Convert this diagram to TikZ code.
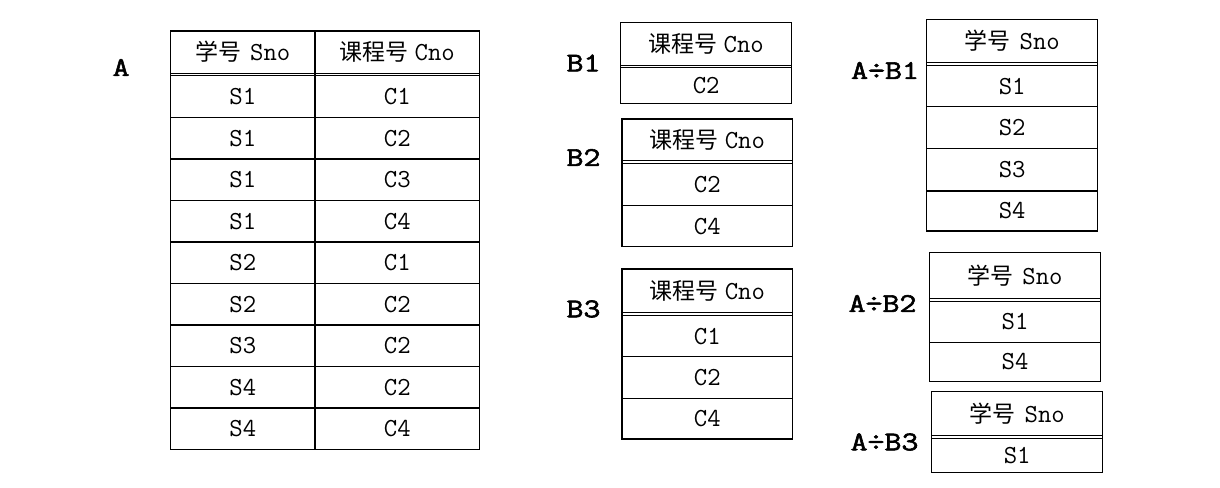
\documentclass[tikz,border=0pt]{standalone}
\usepackage{fontspec}
\newfontfamily\cellfam{Latin Modern Mono}
\newfontfamily\labfam[FakeStretch=1.22,FakeBold=2.2]{Latin Modern Mono}
\newfontfamily\cjkfam{Noto Sans CJK SC}
\newcommand\cjkf{\cjkfam\fontsize{23}{26}\selectfont}
\newcommand\cellf{\cellfam\fontsize{26}{28}\selectfont}
\newcommand\labf{\labfam\fontsize{27}{30}\selectfont}
\newcommand\hSno{{\cjkf 学号}\hspace{9pt}Sno}
\newcommand\hCno{{\cjkf 课程号}\hspace{6pt}Cno}
\tikzset{
  frame/.style={line width=1.3pt, black},
  rule/.style={line width=1.2pt, black},
  dbl/.style={line width=0.9pt, black},
  cell/.style={inner sep=0pt, font=\cellf, text=black},
  lab/.style={inner sep=0pt, font=\labf, text=black},
}
\begin{document}
\begin{tikzpicture}[x=1pt,y=-1pt]
\useasboundingbox[fill=white] (0,0) rectangle (1220,487);

% ---------------- Table A ----------------
\draw[frame] (170.5,31) rectangle (479.5,449.5);
\draw[frame] (315,31) -- (315,449.5);
\draw[dbl] (170.5,73) -- (479.5,73);
\draw[dbl] (170.5,75.8) -- (479.5,75.8);
\foreach \k in {1,...,8} \draw[rule] (170.5,{76+41.5*\k}) -- (479.5,{76+41.5*\k});
\node[cell] (a-h1) at (242.75,52) {\hSno};
\node[cell] (a-h2) at (397.25,52) {\hCno};
\foreach \s/\c [count=\i] in {S1/C1,S1/C2,S1/C3,S1/C4,S2/C1,S2/C2,S3/C2,S4/C2,S4/C4}{
  \node[cell] (a-s\i) at (242.75,{76+41.5*(\i-0.5)}) {\s};
  \node[cell] (a-c\i) at (397.25,{76+41.5*(\i-0.5)}) {\c};
}
\node[lab] (labA) at (121,67.5) {A};

% ---------------- Table B1 ----------------
\draw[frame] (620.7,22.7) rectangle (791.7,103.3);
\draw[dbl] (620.7,65) -- (791.7,65);
\draw[dbl] (620.7,67.7) -- (791.7,67.7);
\node[cell] (b1-h) at (706.2,43.9) {\hCno};
\node[cell] (b1-r1) at (706.2,85.5) {C2};
\node[lab] (labB1) at (583.5,63) {B1};

% ---------------- Table B2 ----------------
\draw[frame] (622,119) rectangle (792.7,246.7);
\draw[dbl] (622,160.7) -- (792.7,160.7);
\draw[dbl] (622,163.4) -- (792.7,163.4);
\draw[rule] (622,205.7) -- (792.7,205.7);
\node[cell] (b2-h) at (707.35,139.9) {\hCno};
\node[cell] (b2-r1) at (707.35,184.5) {C2};
\node[cell] (b2-r2) at (707.35,226.2) {C4};
\node[lab] (labB2) at (583.5,157.5) {B2};

% ---------------- Table B3 ----------------
\draw[frame] (622,269) rectangle (792.7,439);
\draw[dbl] (622,312.7) -- (792.7,312.7);
\draw[dbl] (622,315.6) -- (792.7,315.6);
\draw[rule] (622,356.7) -- (792.7,356.7);
\draw[rule] (622,398.3) -- (792.7,398.3);
\node[cell] (b3-h) at (707.35,290.9) {\hCno};
\node[cell] (b3-r1) at (707.35,336.2) {C1};
\node[cell] (b3-r2) at (707.35,377.5) {C2};
\node[cell] (b3-r3) at (707.35,418.7) {C4};
\node[lab] (labB3) at (583.5,309) {B3};

% ---------------- Table A / B1 ----------------
\draw[frame] (926.7,19.3) rectangle (1097.7,231);
\draw[dbl] (926.7,62.7) -- (1097.7,62.7);
\draw[dbl] (926.7,65.6) -- (1097.7,65.6);
\draw[rule] (926.7,106.7) -- (1097.7,106.7);
\draw[rule] (926.7,148.7) -- (1097.7,148.7);
\draw[rule] (926.7,191) -- (1097.7,191);
\node[cell] (d1-h) at (1012.2,41) {\hSno};
\node[cell] (d1-r1) at (1012.2,86.2) {S1};
\node[cell] (d1-r2) at (1012.2,127.7) {S2};
\node[cell] (d1-r3) at (1012.2,169.9) {S3};
\node[cell] (d1-r4) at (1012.2,211) {S4};
\node[lab] (labD1) at (885,70.5) {A÷B1};

% ---------------- Table A / B2 ----------------
\draw[frame] (929.3,252.3) rectangle (1100.7,381.7);
\draw[dbl] (929.3,298.3) -- (1100.7,298.3);
\draw[dbl] (929.3,301) -- (1100.7,301);
\draw[rule] (929.3,342.3) -- (1100.7,342.3);
\node[cell] (d2-h) at (1015,275.3) {\hSno};
\node[cell] (d2-r1) at (1015,321.7) {S1};
\node[cell] (d2-r2) at (1015,362) {S4};
\node[lab] (labD2) at (882.5,303.5) {A÷B2};

% ---------------- Table A / B3 ----------------
\draw[frame] (931.7,391.7) rectangle (1102.7,472.7);
\draw[dbl] (931.7,435.7) -- (1102.7,435.7);
\draw[dbl] (931.7,438.8) -- (1102.7,438.8);
\node[cell] (d3-h) at (1017.2,413.7) {\hSno};
\node[cell] (d3-r1) at (1017.2,455.9) {S1};
\node[lab] (labD3) at (884.5,442) {A÷B3};
\end{tikzpicture}
\end{document}
